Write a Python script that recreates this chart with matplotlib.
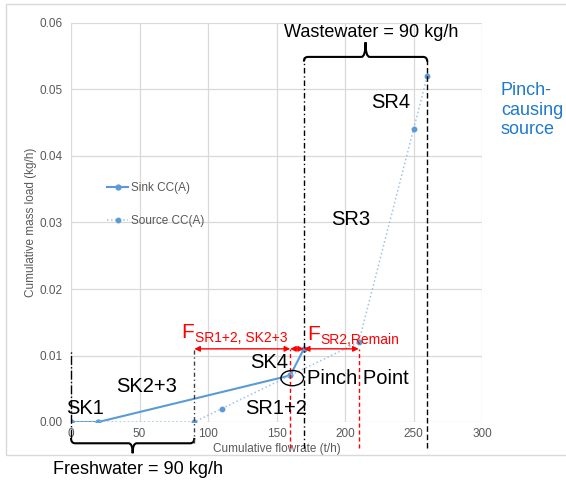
import matplotlib
matplotlib.use("Agg")
import matplotlib.pyplot as plt
from matplotlib.path import Path
from matplotlib.patches import PathPatch, Ellipse, Rectangle

plt.rcParams['font.family'] = ['Liberation Sans', 'DejaVu Sans']

# composite curves
sink_x = [0, 20, 160, 170]
sink_y = [0, 0, 0.007, 0.011]
src_x = [0, 90, 110, 210, 250, 260]
src_y = [0, 0, 0.002, 0.012, 0.044, 0.052]

x_ticks = [0, 50, 100, 150, 200, 250, 300]
y_ticks = [0, 0.01, 0.02, 0.03, 0.04, 0.05, 0.06]

pinch = (160, 0.007)
fresh = 90
waste = 90
f_level = 0.011

BLUE = '#5B9BD5'
LIGHT = '#9DC3E6'
GRAY = '#595959'
RED = '#FF0000'


def brace(ax, x0, x1, y, tip, drop, r):
    # curly brace drawn with quadratic curves
    mid = (x0 + x1) / 2
    verts = [(x0, y + drop), (x0, y), (x0 + r, y), (mid - r, y), (mid, y), (mid, y + tip),
             (mid, y), (mid + r, y), (x1 - r, y), (x1, y), (x1, y + drop)]
    codes = [Path.MOVETO, Path.CURVE3, Path.CURVE3, Path.LINETO, Path.CURVE3, Path.CURVE3,
             Path.CURVE3, Path.CURVE3, Path.LINETO, Path.CURVE3, Path.CURVE3]
    ax.add_patch(PathPatch(Path(verts, codes), fill=False, lw=1.5, ec='black', clip_on=False))


fig = plt.figure(figsize=(5.66, 4.84), dpi=100)
fig.patches.append(Rectangle((6 / 566, 29 / 484), 1.0, 451 / 484, transform=fig.transFigure,
                             fill=False, ec='#D9D9D9', lw=1))
ax = fig.add_axes([71 / 566, 62 / 484, 411 / 566, 399 / 484])

ax.plot(sink_x, sink_y, color=BLUE, lw=1.5, marker='o', ms=3.5, label='Sink CC(A)', zorder=3)
ax.plot(src_x, src_y, color=LIGHT, lw=1.1, ls=':', marker='o', ms=3.2, mfc=BLUE, mec=BLUE,
        label='Source CC(A)', zorder=3)

ax.set_xlim(0, 300)
ax.set_ylim(0, 0.06)
ax.set_xticks(x_ticks)
ax.set_yticks(y_ticks)
ax.set_yticklabels(['%.2f' % v for v in y_ticks])
ax.grid(True, color='#D9D9D9', lw=0.9)
ax.set_axisbelow(True)
for s in ax.spines.values():
    s.set_visible(False)
ax.tick_params(length=0, labelsize=8.5, labelcolor=GRAY)
ax.tick_params(axis='x', pad=4.5)
ax.tick_params(axis='y', pad=6)
ax.set_xlabel('Cumulative flowrate (t/h)', fontsize=8.5, color=GRAY)
ax.set_ylabel('Cumulative mass load (kg/h)', fontsize=8.5, color=GRAY)
ax.xaxis.set_label_coords(0.5, -0.052)
ax.yaxis.set_label_coords(-0.082, 0.5)

ax.legend(loc='center left', bbox_to_anchor=(0.088, 0.545), frameon=False, fontsize=8.5,
          handlelength=1.8, handletextpad=0.2, labelspacing=1.8, borderpad=0, borderaxespad=0,
          labelcolor=GRAY)

# guide lines
kw = dict(clip_on=False, lw=1, zorder=4)
ax.plot([0, 0], [-0.0024, f_level - 0.0002], color='black', ls='-.', **kw)
ax.plot([fresh, fresh], [-0.0032, f_level], color='#404040', ls=(0, (3, 2, 1, 2)), **kw)
ax.plot([sink_x[-1], sink_x[-1]], [-0.0039, 0.0549], color='black', ls=(0, (4, 2, 1, 2)), **kw)
ax.plot([src_x[-1], src_x[-1]], [-0.0039, 0.0544], color='black', ls=(0, (4, 2)), **kw)
ax.plot([pinch[0], pinch[0]], [-0.0039, f_level], color=RED, ls=(0, (3, 2)), **kw)
ax.plot([210, 210], [-0.0039, f_level], color=RED, ls=(0, (3, 2)), **kw)

# red flow arrows
arr = dict(arrowstyle='<|-|>', color=RED, lw=1, shrinkA=0, shrinkB=0, mutation_scale=8)
for a, b in [(fresh, pinch[0]), (pinch[0], sink_x[-1]), (sink_x[-1], 210)]:
    ax.annotate('', xy=(b, f_level), xytext=(a, f_level), arrowprops=arr, zorder=5)

ax.text(80.5, 0.0126, 'F', color=RED, fontsize=15, va='baseline')
ax.annotate('SR1+2, SK2+3', xy=(80.5, 0.0126), xytext=(10, -3), textcoords='offset points',
            color=RED, fontsize=10, va='baseline')
ax.text(172.6, 0.0123, 'F', color=RED, fontsize=15, va='baseline')
ax.annotate('SR2,Remain', xy=(172.6, 0.0123), xytext=(9, -3), textcoords='offset points',
            color=RED, fontsize=10, va='baseline')

# pinch marker
ax.add_patch(Ellipse((161.5, 0.0066), 16.5, 0.0023, fill=False, ec='black', lw=1, zorder=5))
ax.text(172.6, 0.0066, 'Pinch Point', fontsize=14.5, va='center', ha='left')

# stream labels
labels = [('SK1', 10.2, 0.0021), ('SK2+3', 55.2, 0.0054), ('SK4', 144.5, 0.0089),
          ('SR1+2', 149.6, 0.0021), ('SR3', 204, 0.0304), ('SR4', 233.4, 0.048)]
for t, x, y in labels:
    ax.text(x, y, t, fontsize=14.5, ha='center', va='center', zorder=6)

# braces
brace(ax, sink_x[-1], src_x[-1], 0.0549, 0.0022, -0.0007, 3)
ax.text((sink_x[-1] + src_x[-1]) / 2 + 4, 0.0586, 'Wastewater = %d kg/h' % waste, fontsize=13,
        ha='center', va='center')
brace(ax, 0, fresh, -0.0032, -0.0015, 0.0008, 3)
ax.text(fresh / 2 + 4, -0.0072, 'Freshwater = %d kg/h' % fresh, fontsize=13,
        ha='center', va='center')

ax.text(313.8, 0.0469, 'Pinch-\ncausing\nsource', color='#1F7ACD', fontsize=13,
        ha='left', va='center', linespacing=1.2)

fig.savefig('out.png', dpi=100)
